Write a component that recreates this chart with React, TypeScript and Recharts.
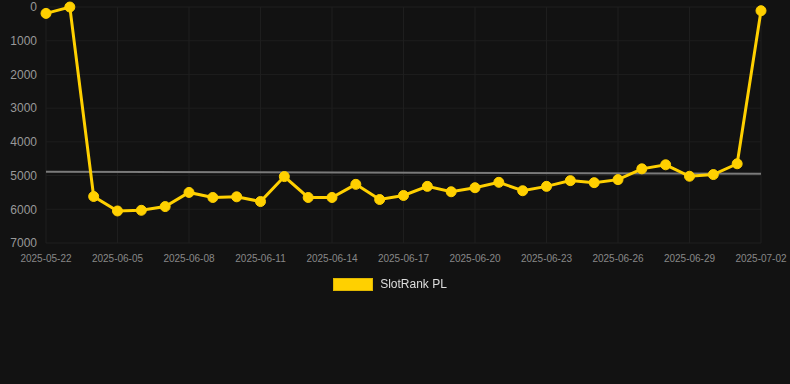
import { LineChart, Line, XAxis, YAxis, CartesianGrid, Legend, ReferenceLine } from 'recharts';

const dates = [
  '2025-05-22', '2025-05-29', '2025-06-04', '2025-06-05', '2025-06-06', '2025-06-07',
  '2025-06-08', '2025-06-09', '2025-06-10', '2025-06-11', '2025-06-12', '2025-06-13',
  '2025-06-14', '2025-06-15', '2025-06-16', '2025-06-17', '2025-06-18', '2025-06-19',
  '2025-06-20', '2025-06-21', '2025-06-22', '2025-06-23', '2025-06-24', '2025-06-25',
  '2025-06-26', '2025-06-27', '2025-06-28', '2025-06-29', '2025-06-30', '2025-07-01',
  '2025-07-02',
];

const ranks = [
  190, 1, 5620, 6050, 6030, 5920, 5500, 5650, 5630, 5770, 5030, 5650, 5650, 5260, 5710,
  5590, 5320, 5480, 5360, 5200, 5450, 5320, 5150, 5210, 5120, 4800, 4680, 5020, 4970,
  4650, 110,
];

// trend line end values
const trendStart = 4885;
const trendEnd = 4945;

const yTicks = [0, 1000, 2000, 3000, 4000, 5000, 6000, 7000];

const data = dates.map((date, i) => ({ date, rank: ranks[i] }));

function LegendBox() {
  return (
    <div style={{ display: 'flex', justifyContent: 'center', alignItems: 'center', gap: 7 }}>
      <span style={{ width: 38, height: 11, background: '#FFD000', border: '1px solid #E0B800', display: 'inline-block' }} />
      <span style={{ color: '#DDDDDD', fontSize: 12, fontFamily: '"Liberation Sans", Arial, sans-serif' }}>SlotRank PL</span>
    </div>
  );
}

export default function App() {
  return (
    <div style={{ position: 'fixed', top: 0, left: 0, width: 790, height: 384, background: '#121212' }}>
      <LineChart width={790} height={384} data={data} margin={{ top: 7, right: 29, bottom: 111, left: 0 }}>
        <CartesianGrid stroke="#1e1e1e" horizontal vertical />
        <XAxis
          dataKey="date"
          interval={2}
          height={30}
          axisLine={false}
          tickLine={false}
          tickMargin={6}
          tick={{ fill: '#888888', fontSize: 10, fontFamily: '"Liberation Sans", Arial, sans-serif' }}
        />
        <YAxis
          reversed
          domain={[0, 7000]}
          ticks={yTicks}
          interval={0}
          width={46}
          axisLine={false}
          tickLine={false}
          tickMargin={3}
          tick={{ fill: '#999999', fontSize: 12, fontFamily: '"Liberation Sans", Arial, sans-serif' }}
        />
        <ReferenceLine
          segment={[
            { x: dates[0], y: trendStart },
            { x: dates[dates.length - 1], y: trendEnd },
          ]}
          stroke="#7a7a7a"
          strokeWidth={2}
          ifOverflow="extendDomain"
        />
        <Line
          type="linear"
          dataKey="rank"
          name="SlotRank PL"
          stroke="#FFD000"
          strokeWidth={3}
          dot={{ r: 5, fill: '#FFD000', stroke: '#FFD000', strokeWidth: 1 }}
          isAnimationActive={false}
        />
        <Legend
          layout="horizontal"
          verticalAlign="middle"
          align="center"
          wrapperStyle={{ top: 277, left: -5, width: 790 }}
          content={() => <LegendBox />}
        />
      </LineChart>
    </div>
  );
}
